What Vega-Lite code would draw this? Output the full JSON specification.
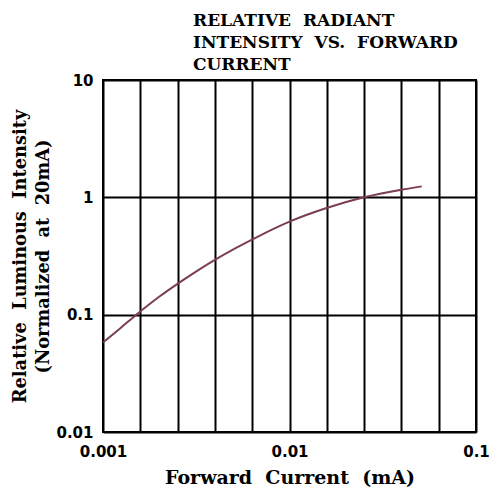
{
  "$schema": "https://vega.github.io/schema/vega-lite/v6.json",
  "autosize": "none",
  "padding": {"left": 103, "top": 80, "right": 14, "bottom": 58},
  "width": 373,
  "height": 352,
  "background": "white",
  "title": {
    "text": ["RELATIVE\u00a0 RADIANT", "INTENSITY\u00a0 VS.\u00a0 FORWARD", "CURRENT"],
    "anchor": "start",
    "frame": "group",
    "dx": 90,
    "offset": -1,
    "font": "DejaVu Serif",
    "fontSize": 17,
    "fontWeight": "bold",
    "lineHeight": 22,
    "color": "black"
  },
  "data": {
    "values": [
      {"current": 0.001, "intensity": 0.058},
      {"current": 0.00123, "intensity": 0.076},
      {"current": 0.00151, "intensity": 0.1},
      {"current": 0.002, "intensity": 0.142},
      {"current": 0.0028, "intensity": 0.206},
      {"current": 0.004, "intensity": 0.295},
      {"current": 0.0069, "intensity": 0.47},
      {"current": 0.01, "intensity": 0.62},
      {"current": 0.0158, "intensity": 0.81},
      {"current": 0.0251, "intensity": 1.0},
      {"current": 0.0398, "intensity": 1.16},
      {"current": 0.0512, "intensity": 1.24}
    ]
  },
  "mark": {"type": "line", "color": "#7a3e50", "strokeWidth": 2, "interpolate": "monotone", "clip": true},
  "encoding": {
    "x": {
      "field": "current",
      "type": "quantitative",
      "scale": {"type": "log", "domain": [0.001, 0.1], "nice": false},
      "axis": {
        "title": "Forward\u00a0 Current\u00a0 (mA)",
        "values": [0.001, 0.001585, 0.002512, 0.003981, 0.00631, 0.01, 0.01585, 0.02512, 0.03981, 0.0631, 0.1],
        "labelExpr": "datum.value == 0.001 || datum.value == 0.01 || datum.value == 0.1 ? datum.label : ''",
        "format": "~g",
        "labelOverlap": false,
        "labelFlush": false,
        "ticks": false,
        "domain": false,
        "grid": true,
        "gridColor": "black",
        "gridWidth": 2,
        "gridOpacity": 1,
        "labelPadding": 12,
        "labelFont": "DejaVu Sans",
        "labelFontWeight": "bold",
        "labelFontSize": 15,
        "labelColor": "black",
        "titleFont": "DejaVu Serif",
        "titleFontWeight": "bold",
        "titleFontSize": 19,
        "titleColor": "black",
        "titlePadding": 9
      }
    },
    "y": {
      "field": "intensity",
      "type": "quantitative",
      "scale": {"type": "log", "domain": [0.01, 10], "nice": false},
      "axis": {
        "title": ["Relative\u00a0 Luminous\u00a0 Intensity", "(Normalized\u00a0 at\u00a0 20mA)"],
        "values": [0.01, 0.1, 1, 10],
        "format": "~g",
        "labelOverlap": false,
        "labelFlush": false,
        "ticks": false,
        "domain": false,
        "grid": true,
        "gridColor": "black",
        "gridWidth": 2,
        "gridOpacity": 1,
        "labelPadding": 10,
        "labelFont": "DejaVu Sans",
        "labelFontWeight": "bold",
        "labelFontSize": 15,
        "labelColor": "black",
        "titleFont": "DejaVu Serif",
        "titleFontWeight": "bold",
        "titleFontSize": 17.8,
        "titleColor": "black",
        "titleLineHeight": 23,
        "titlePadding": 3
      }
    }
  },
  "config": {
    "view": {"stroke": "black", "strokeWidth": 2}
  }
}
